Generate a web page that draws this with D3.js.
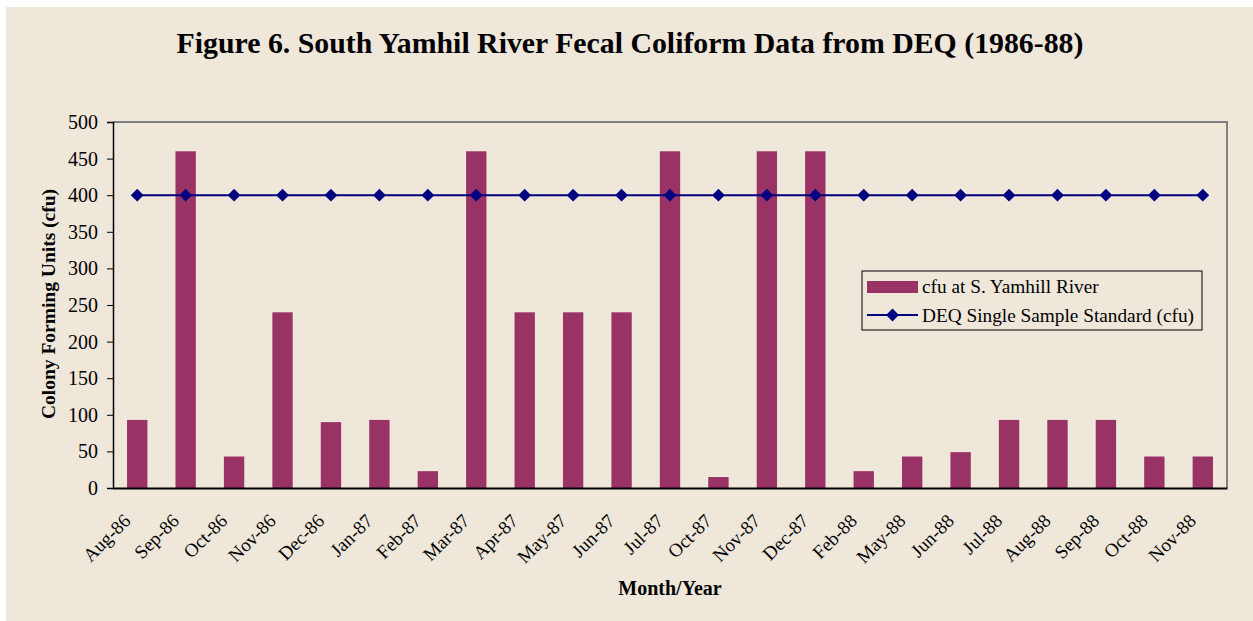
<!DOCTYPE html>
<html>
<head>
<meta charset="utf-8">
<script src="https://cdn.jsdelivr.net/npm/d3@7"></script>
<style>
  html, body { margin: 0; padding: 0; background: #ffffff; }
  svg { display: block; }
  text { font-family: "Liberation Serif", "Times New Roman", serif; fill: #000; }
</style>
</head>
<body>
<svg id="chart" width="1253" height="621"></svg>
<script>
// Sampling months
const months = ["Aug-86","Sep-86","Oct-86","Nov-86","Dec-86","Jan-87","Feb-87","Mar-87",
  "Apr-87","May-87","Jun-87","Jul-87","Oct-87","Nov-87","Dec-87","Feb-88","May-88",
  "Jun-88","Jul-88","Aug-88","Sep-88","Oct-88","Nov-88"];
// Fecal coliform counts (cfu) at S. Yamhill River
const cfuValues = [93,460,43,240,90,93,23,460,240,240,240,460,15,460,460,23,43,49,93,93,93,43,43];
// DEQ single sample standard (cfu)
const standardValues = months.map(() => 400);
const yTicks = [0,50,100,150,200,250,300,350,400,450,500];

const svg = d3.select("#chart");
const W = 1253, H = 621;

// chart background panel
svg.append("rect").attr("x", 6).attr("y", 7).attr("width", W - 6).attr("height", H - 7)
  .attr("fill", "#EFE7D9");

const m = { left: 113, top: 122, right: 1227, bottom: 488 };

const x = d3.scaleBand().domain(months).range([m.left, m.right]).paddingInner(0.58).paddingOuter(0.29);
const xc = d3.scalePoint().domain(months).range([m.left, m.right]).padding(0.5);
const y = d3.scaleLinear().domain([0, 500]).range([m.bottom, m.top]);

// title
svg.append("text").attr("x", 630).attr("y", 53).attr("text-anchor", "middle")
  .style("font-size", "29.8px").style("font-weight", "bold")
  .text("Figure 6. South Yamhil River Fecal Coliform Data from DEQ (1986-88)");

// plot frame (top / right)
svg.append("path")
  .attr("d", `M${m.left},${m.top}H${m.right}V${m.bottom}`)
  .attr("fill", "none").attr("stroke", "#808080").attr("stroke-width", 2);

// bars
svg.append("g").selectAll("rect").data(cfuValues).join("rect")
  .attr("x", (d, i) => x(months[i]))
  .attr("width", x.bandwidth())
  .attr("y", d => y(d))
  .attr("height", d => y(0) - y(d))
  .attr("fill", "#993366");

// y axis
const yAxis = svg.append("g").attr("transform", `translate(${m.left},0)`)
  .call(d3.axisLeft(y).tickValues(yTicks).tickSize(6).tickPadding(9));
yAxis.select(".domain").attr("stroke", "#000").attr("stroke-width", 1.5);
yAxis.selectAll(".tick line").attr("stroke", "#000");
yAxis.selectAll(".tick text").style("font-size", "20px").style("font-family", "Liberation Serif");

// x axis
const xAxis = svg.append("g").attr("transform", `translate(0,${m.bottom})`)
  .call(d3.axisBottom(xc).tickSize(0).tickPadding(0));
xAxis.select(".domain").attr("stroke", "#000").attr("stroke-width", 2);
xAxis.selectAll(".tick text")
  .style("font-size", "19px").style("font-family", "Liberation Serif")
  .attr("text-anchor", "end")
  .attr("dy", 0)
  .attr("transform", "translate(-6,34) rotate(-45)");

// standard line with diamond markers
const line = d3.line().x((d, i) => xc(months[i])).y(d => y(d));
svg.append("path").datum(standardValues).attr("d", line)
  .attr("fill", "none").attr("stroke", "#000080").attr("stroke-width", 2);
const diamond = d3.symbol().type(d3.symbolDiamond2).size(105);
svg.append("g").selectAll("path").data(standardValues).join("path")
  .attr("d", diamond)
  .attr("transform", (d, i) => `translate(${xc(months[i])},${y(d)})`)
  .attr("fill", "#000080");

// axis titles
svg.append("text").attr("transform", "translate(55,304) rotate(-90)")
  .attr("text-anchor", "middle").style("font-size", "19.5px").style("font-weight", "bold")
  .text("Colony Forming Units (cfu)");
svg.append("text").attr("x", 670).attr("y", 595).attr("text-anchor", "middle")
  .style("font-size", "20px").style("font-weight", "bold")
  .text("Month/Year");

// legend
const lg = svg.append("g").attr("transform", "translate(862,271)");
lg.append("rect").attr("width", 340).attr("height", 59)
  .attr("fill", "none").attr("stroke", "#000").attr("stroke-width", 1);
lg.append("rect").attr("x", 5).attr("y", 10).attr("width", 51).attr("height", 12).attr("fill", "#993366");
lg.append("text").attr("x", 60).attr("y", 22).style("font-size", "19.3px").text("cfu at S. Yamhill River");
lg.append("line").attr("x1", 5).attr("x2", 56).attr("y1", 44).attr("y2", 44)
  .attr("stroke", "#000080").attr("stroke-width", 2);
lg.append("path").attr("d", diamond).attr("transform", "translate(30.5,44)").attr("fill", "#000080");
lg.append("text").attr("x", 60).attr("y", 51).style("font-size", "19.3px").text("DEQ Single Sample Standard (cfu)");
</script>
</body>
</html>
